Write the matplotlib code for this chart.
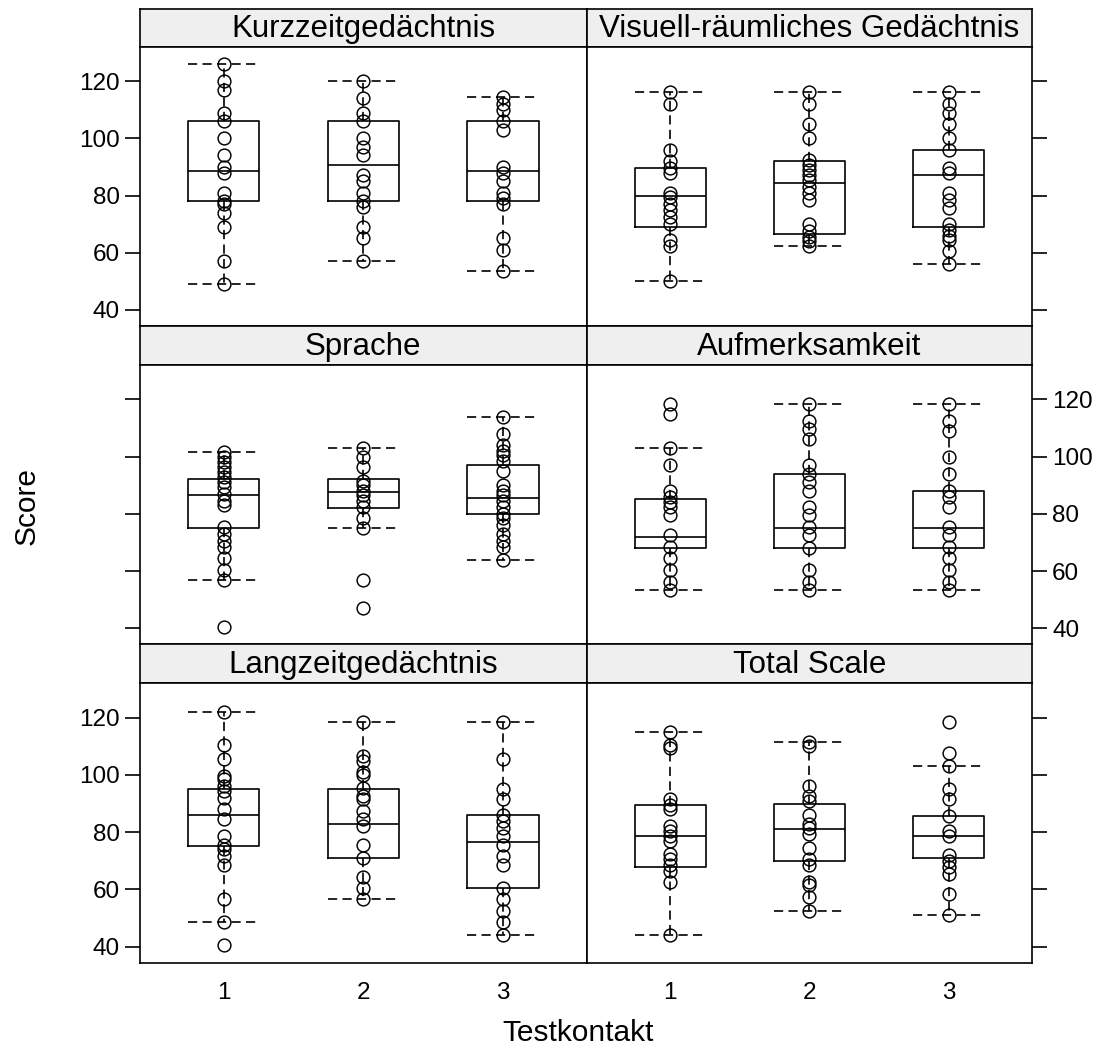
import numpy as np
import matplotlib
matplotlib.use("Agg")
import matplotlib.pyplot as plt

plt.rcParams["font.family"] = ["Liberation Sans", "DejaVu Sans"]

# -------------------------------------------------------------
# data: scores per Testkontakt (1, 2, 3) for each scale
# box stats per group: (whisker low, Q1, median, Q3, whisker high)
# -------------------------------------------------------------
TESTKONTAKT = [1, 2, 3]
Y_TICKS = [40, 60, 80, 100, 120]

KURZZEIT_SCORES = [
    [126, 120, 117, 109, 106, 100, 94, 90, 88, 81, 78, 77, 74, 69, 57, 49],
    [120, 114, 109, 106, 100, 97, 94, 87, 85, 81, 78, 76, 69, 65, 57],
    [114.5, 112, 110, 106, 103, 90, 88, 85, 81, 79, 77, 65, 61, 53.5],
]
KURZZEIT_BOX = [(49, 78, 88.5, 106, 126), (57, 78, 90.5, 106, 120), (53.5, 78, 88.5, 106, 114.5)]

VISUELL_SCORES = [
    [116, 112, 96, 92, 89.5, 88, 81, 79.5, 77, 75, 72.5, 70, 64.5, 62.5, 50],
    [116, 112, 105, 100, 92.5, 90.5, 89, 87, 85.5, 83, 81, 78.5, 70, 67.5, 65.5, 64, 62.5],
    [116, 112, 109, 105, 100, 96, 89.5, 88, 81, 78.5, 75.5, 70, 68, 66, 64.5, 60.5, 56],
]
VISUELL_BOX = [(50, 69, 80, 89.5, 116), (62.5, 66.5, 84.5, 92, 116), (56, 69, 87, 96, 116)]

SPRACHE_SCORES = [
    [101.5, 100, 98, 96.5, 94.5, 93, 91, 89.5, 87, 84.5, 83, 75.5, 73, 70.5, 68.5, 64.5, 60.5, 57, 40.5],
    [103, 100, 96.5, 91.5, 90, 88, 86.5, 84.5, 82.5, 78.5, 75, 57, 47],
    [114, 108, 104, 102, 100.5, 98.5, 95, 90, 88, 86.5, 84.5, 82.5, 80, 78.5, 76, 73, 70.5, 68.5, 64],
]
SPRACHE_BOX = [(57, 75, 86.5, 92, 101.5), (75, 82, 87.5, 92, 103), (64, 80, 85.5, 97, 114)]

AUFMERKSAMKEIT_SCORES = [
    [118.5, 115, 103, 97, 88, 86, 84, 82.5, 79.5, 72.5, 68.5, 64.5, 60.5, 56, 53.5],
    [118.5, 112.5, 109.5, 106, 97, 94, 91, 88, 82.5, 79.5, 75.5, 72.5, 68, 60.5, 56, 53.5],
    [118.5, 112.5, 109, 100, 94, 88, 86, 82.5, 75.5, 72.5, 68.5, 64.5, 60.5, 56, 53.5],
]
AUFMERKSAMKEIT_BOX = [(53.5, 68, 72, 85, 103), (53.5, 68, 75, 94, 118.5), (53.5, 68, 75, 88, 118.5)]

LANGZEIT_SCORES = [
    [122, 110.5, 105.5, 99.5, 98.5, 96, 94.5, 92, 88, 84.5, 78.5, 75.5, 74, 71.5, 68.5, 56.5, 48.5, 40.5],
    [118.5, 106.5, 105, 101, 100, 95.5, 92.5, 91.5, 87.5, 84.5, 82, 75.5, 71, 64.5, 60.5, 56.5],
    [118.5, 105.5, 95, 91.5, 86, 84, 81.5, 78.5, 75.5, 71.5, 68.5, 60.5, 56.5, 52.5, 48.5, 44],
]
LANGZEIT_BOX = [(48.5, 75, 86, 95, 122), (56.5, 71, 83, 95, 118.5), (44, 60.5, 76.5, 86, 118.5)]

TOTAL_SCORES = [
    [115, 110.5, 109.5, 91.5, 89.5, 88, 82, 80.5, 78.5, 77, 72.5, 70.5, 68.5, 66.5, 62.5, 44],
    [111.5, 110, 96, 92.5, 91, 86, 83, 81.5, 79.5, 74.5, 70.5, 68.5, 62.5, 61.5, 57.5, 52.5],
    [118.5, 107.5, 103, 95, 91.5, 85.5, 80.5, 78.5, 72, 70, 68, 65.5, 58.5, 51],
]
TOTAL_BOX = [(44, 68, 78.5, 89.5, 115), (52.5, 70, 81, 90, 111.5), (51, 71, 78.5, 85.5, 103)]

PANELS = [
    ("Kurzzeitgedächtnis", KURZZEIT_SCORES, KURZZEIT_BOX),
    ("Visuell-räumliches Gedächtnis", VISUELL_SCORES, VISUELL_BOX),
    ("Sprache", SPRACHE_SCORES, SPRACHE_BOX),
    ("Aufmerksamkeit", AUFMERKSAMKEIT_SCORES, AUFMERKSAMKEIT_BOX),
    ("Langzeitgedächtnis", LANGZEIT_SCORES, LANGZEIT_BOX),
    ("Total Scale", TOTAL_SCORES, TOTAL_BOX),
]

# -------------------------------------------------------------
# layout (pixel grid of a 1109 x 1056 canvas)
# -------------------------------------------------------------
W, H = 1109, 1056
COLS = [(140, 586.7), (586.7, 1032)]
STRIPS = [(8.5, 46.7), (326, 365), (644.3, 683.3)]
BODIES = [(46.7, 326), (365, 644.3), (683.3, 962.7)]
STRIP_BG = "#EFEFEF"
LW = 1.2
DASH = (0, (5.5, 3.2))


def rect(x0, x1, y0, y1):
    return [x0 / W, 1 - y1 / H, (x1 - x0) / W, (y1 - y0) / H]


fig = plt.figure(figsize=(W / 100, H / 100), dpi=100)
fig.patch.set_facecolor("white")

for i, (title, scores, box) in enumerate(PANELS):
    row, col = divmod(i, 2)
    x0, x1 = COLS[col]

    # strip with the scale name
    sax = fig.add_axes(rect(x0, x1, *STRIPS[row]))
    sax.set_facecolor(STRIP_BG)
    sax.set_xticks([])
    sax.set_yticks([])
    for sp in sax.spines.values():
        sp.set_linewidth(LW)
    sax.text(0.5, 0.47, title, ha="center", va="center",
             fontsize=22.5, transform=sax.transAxes)

    ax = fig.add_axes(rect(x0, x1, *BODIES[row]))
    for sp in ax.spines.values():
        sp.set_linewidth(LW)

    stats = [dict(whislo=b[0], q1=b[1], med=b[2], q3=b[3], whishi=b[4])
             for b in box]
    ax.bxp(stats, positions=TESTKONTAKT, widths=0.51, capwidths=0.51,
           showfliers=False, patch_artist=False,
           boxprops=dict(color="black", linewidth=LW),
           medianprops=dict(color="black", linewidth=LW),
           whiskerprops=dict(color="black", linewidth=LW, linestyle=DASH),
           capprops=dict(color="black", linewidth=LW, linestyle=DASH))

    for pos, vals in zip(TESTKONTAKT, scores):
        ax.plot(np.full(len(vals), pos), vals, "o", mfc="none", mec="black",
                ms=9.2, mew=1.05, zorder=4)

    ax.set_xlim(0.4, 3.6)
    ax.set_ylim(34.4, 132.0)
    ax.set_yticks(Y_TICKS)

    labelled = (row != 1 and col == 0) or (row == 1 and col == 1)
    ax.tick_params(axis="y", direction="out", length=10.5, width=LW,
                   labelsize=17.5, pad=4,
                   left=(col == 0), right=(col == 1),
                   labelleft=(labelled and col == 0),
                   labelright=(labelled and col == 1))
    if row == 2:
        ax.set_xticks(TESTKONTAKT)
        ax.tick_params(axis="x", length=0, labelsize=17.5, pad=14)
    else:
        ax.set_xticks([])

fig.text(27 / W, 1 - 506 / H, "Score", rotation=90, ha="center", va="center",
         fontsize=21.5)
fig.text(578 / W, 1 - 1033 / H, "Testkontakt", ha="center", va="center",
         fontsize=21.5)

fig.savefig("out.png", dpi=100, facecolor="white")
